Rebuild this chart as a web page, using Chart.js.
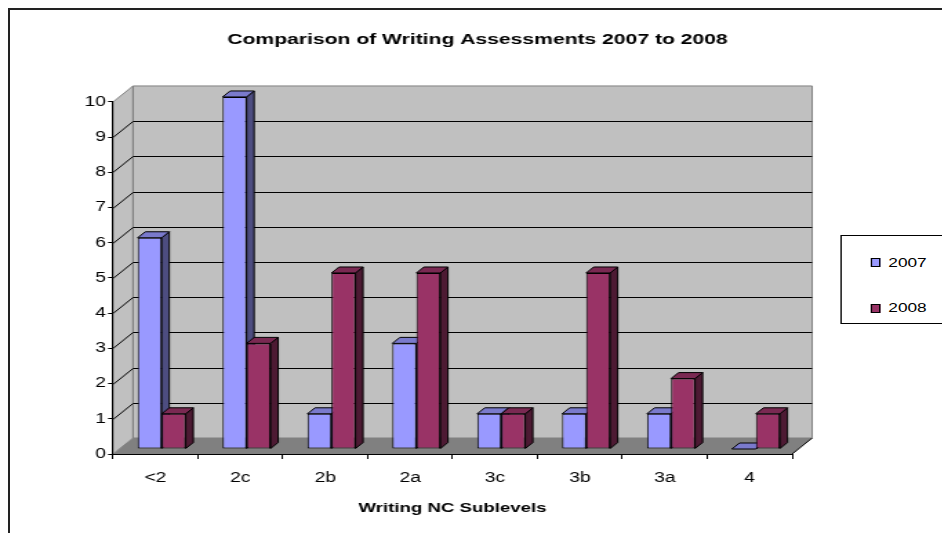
<!DOCTYPE html>
<html>
<head>
<meta charset="utf-8">
<script src="https://cdn.jsdelivr.net/npm/chart.js@4.4.0/dist/chart.umd.min.js"></script>
<style>
html, body { margin: 0; padding: 0; background: #fff; width: 942px; height: 533px; overflow: hidden; }
#frame { position: absolute; left: 8px; top: 8px; width: 1000px; height: 600px; border: 2px solid #222; box-sizing: border-box; }
/* the reference picture is stretched sideways, so the whole chart is too */
#stage { position: absolute; left: 0; top: 0; width: 692px; height: 533px; transform: scaleX(1.38); transform-origin: 0 0; }
#legend { position: absolute; left: 608.7px; top: 235px; width: 120px; height: 87px; border: 1px solid #000; background: #fff;
  font: 12.5px "Liberation Sans", Arial, sans-serif; color: #000; }
.key { position: absolute; left: 21.7px; width: 4.6px; height: 7px; border: 1px solid #000; }
.lbl { position: absolute; left: 34px; line-height: 14px; }
</style>
</head>
<body>
<div id="frame"></div>
<div id="stage">
  <canvas id="chart" width="692" height="533"></canvas>
  <div id="legend"></div>
</div>
<script>
var categories = ["<2", "2c", "2b", "2a", "3c", "3b", "3a", "4"];
var values_2007 = [6, 10, 1, 3, 1, 1, 1, 0];
var values_2008 = [1, 3, 5, 5, 1, 5, 2, 1];
var series_labels = ["2007", "2008"];
var y_min = 0;
var y_max = 10;
var y_step = 1;

var font_family = '"Liberation Sans", Arial, sans-serif';
var face_colors = ["#9999FF", "#993366"];
var top_colors = ["#7A7ACC", "#7A2952"];
var side_colors = ["#4D4D80", "#4D1A33"];

// depth of the box and of the bars (canvas units)
var DX = 14.5, DY = 16;
var SHIFT_X = 4.5, SHIFT_Y = 5;
var BX = 5.5, BY = 6;

function poly(ctx, pts, fill, stroke) {
    ctx.beginPath();
    ctx.moveTo(pts[0][0], pts[0][1]);
    for (var i = 1; i < pts.length; i++) ctx.lineTo(pts[i][0], pts[i][1]);
    ctx.closePath();
    if (fill) { ctx.fillStyle = fill; ctx.fill(); }
    if (stroke) { ctx.strokeStyle = stroke; ctx.lineWidth = 1; ctx.stroke(); }
}

//- walls, floor and gridlines -
var wallsPlugin = {
    id: "walls",
    beforeDraw: function (chart) {
        var ctx = chart.ctx, a = chart.chartArea, y = chart.scales.y;
        ctx.save();
        poly(ctx, [[a.left, a.top], [a.left + DX, a.top - DY], [a.left + DX, a.bottom - DY], [a.left, a.bottom]], "#C0C0C0", "#808080");
        poly(ctx, [[a.left + DX, a.top - DY], [a.right + DX, a.top - DY], [a.right + DX, a.bottom - DY], [a.left + DX, a.bottom - DY]], "#C0C0C0", "#808080");
        poly(ctx, [[a.left, a.bottom], [a.left + DX, a.bottom - DY], [a.right + DX, a.bottom - DY], [a.right, a.bottom]], "#808080", null);
        ctx.beginPath();
        ctx.moveTo(a.right, a.bottom);
        ctx.lineTo(a.right + DX, a.bottom - DY);
        ctx.strokeStyle = "#000";
        ctx.lineWidth = 1;
        ctx.stroke();
        for (var v = y_min + y_step; v < y_max; v += y_step) {
            var py = Math.round(y.getPixelForValue(v)) + 0.5;
            ctx.beginPath();
            ctx.moveTo(a.left, py);
            ctx.lineTo(a.left + DX, py - DY);
            ctx.lineTo(a.right + DX, py - DY);
            ctx.strokeStyle = "#000";
            ctx.stroke();
        }
        ctx.restore();
    },
};

//- 3d sides and tops of the bars -
var barsPlugin = {
    id: "bars3d",
    beforeDatasetsDraw: function (chart) {
        var ctx = chart.ctx;
        ctx.save();
        ctx.translate(SHIFT_X, -SHIFT_Y);
        var metas = chart.getSortedVisibleDatasetMetas();
        for (var c = 0; c < chart.data.labels.length; c++) {
            metas.forEach(function (meta) {
                var p = meta.data[c].getProps(["x", "y", "base", "width"], true);
                var l = p.x - p.width / 2, r = p.x + p.width / 2;
                poly(ctx, [[r, p.y], [r + BX, p.y - BY], [r + BX, p.base - BY], [r, p.base]], side_colors[meta.index], "#000");
                poly(ctx, [[l, p.y], [l + BX, p.y - BY], [r + BX, p.y - BY], [r, p.y]], top_colors[meta.index], "#000");
            });
        }
    },
    afterDatasetsDraw: function (chart) {
        chart.ctx.restore();
    },
};

var chart = new Chart(document.getElementById("chart").getContext("2d"), {
    type: "bar",
    data: {
        labels: categories,
        datasets: [
            { label: series_labels[0], data: values_2007, backgroundColor: face_colors[0] },
            { label: series_labels[1], data: values_2008, backgroundColor: face_colors[1] },
        ],
    },
    options: {
        responsive: false,
        animation: false,
        events: [],
        datasets: {
            bar: {
                borderColor: "#000",
                borderWidth: 1,
                borderSkipped: false,
                categoryPercentage: 0.566,
                barPercentage: 1,
                clip: false,
            },
        },
        plugins: {
            legend: { display: false },
            tooltip: { enabled: false },
            title: {
                display: true,
                text: "Comparison of Writing Assessments 2007 to 2008",
                color: "#000",
                font: { family: font_family, size: 15.3, weight: "bold" },
                padding: { top: 31, bottom: 52.6 },
            },
        },
        scales: {
            x: {
                offset: true,
                grid: { offset: true, drawOnChartArea: false, tickLength: 5, color: "#000" },
                border: { color: "#000" },
                ticks: { color: "#000", font: { family: font_family, size: 14 }, padding: 10.6, maxRotation: 0 },
                title: {
                    display: true,
                    text: "Writing NC Sublevels",
                    color: "#000",
                    font: { family: font_family, size: 13.5, weight: "bold" },
                    padding: { top: 0, bottom: 17 },
                },
                afterFit: function (s) { s.height = 79; },
            },
            y: {
                min: y_min,
                max: y_max,
                ticks: { stepSize: y_step, color: "#000", font: { family: font_family, size: 14 }, padding: 1.5 },
                grid: { drawOnChartArea: false, tickLength: 3.6, color: "#000" },
                border: { color: "#000" },
                afterFit: function (s) { s.width = 81.9; },
            },
            // empty right-hand box that leaves room for the legend
            pad: {
                type: "linear",
                position: "right",
                grid: { display: false },
                border: { display: false },
                ticks: { display: false },
                afterFit: function (s) { s.width = 118; },
            },
        },
    },
    plugins: [wallsPlugin, barsPlugin],
});

// legend box
var legend = document.getElementById("legend");
var rowCenters = [26.5, 72];
chart.data.datasets.forEach(function (ds, i) {
    var key = document.createElement("div");
    key.className = "key";
    key.style.top = (rowCenters[i] - 4.5) + "px";
    key.style.background = ds.backgroundColor;
    legend.appendChild(key);
    var lbl = document.createElement("div");
    lbl.className = "lbl";
    lbl.style.top = (rowCenters[i] - 7) + "px";
    lbl.textContent = ds.label;
    legend.appendChild(lbl);
});
</script>
</body>
</html>
